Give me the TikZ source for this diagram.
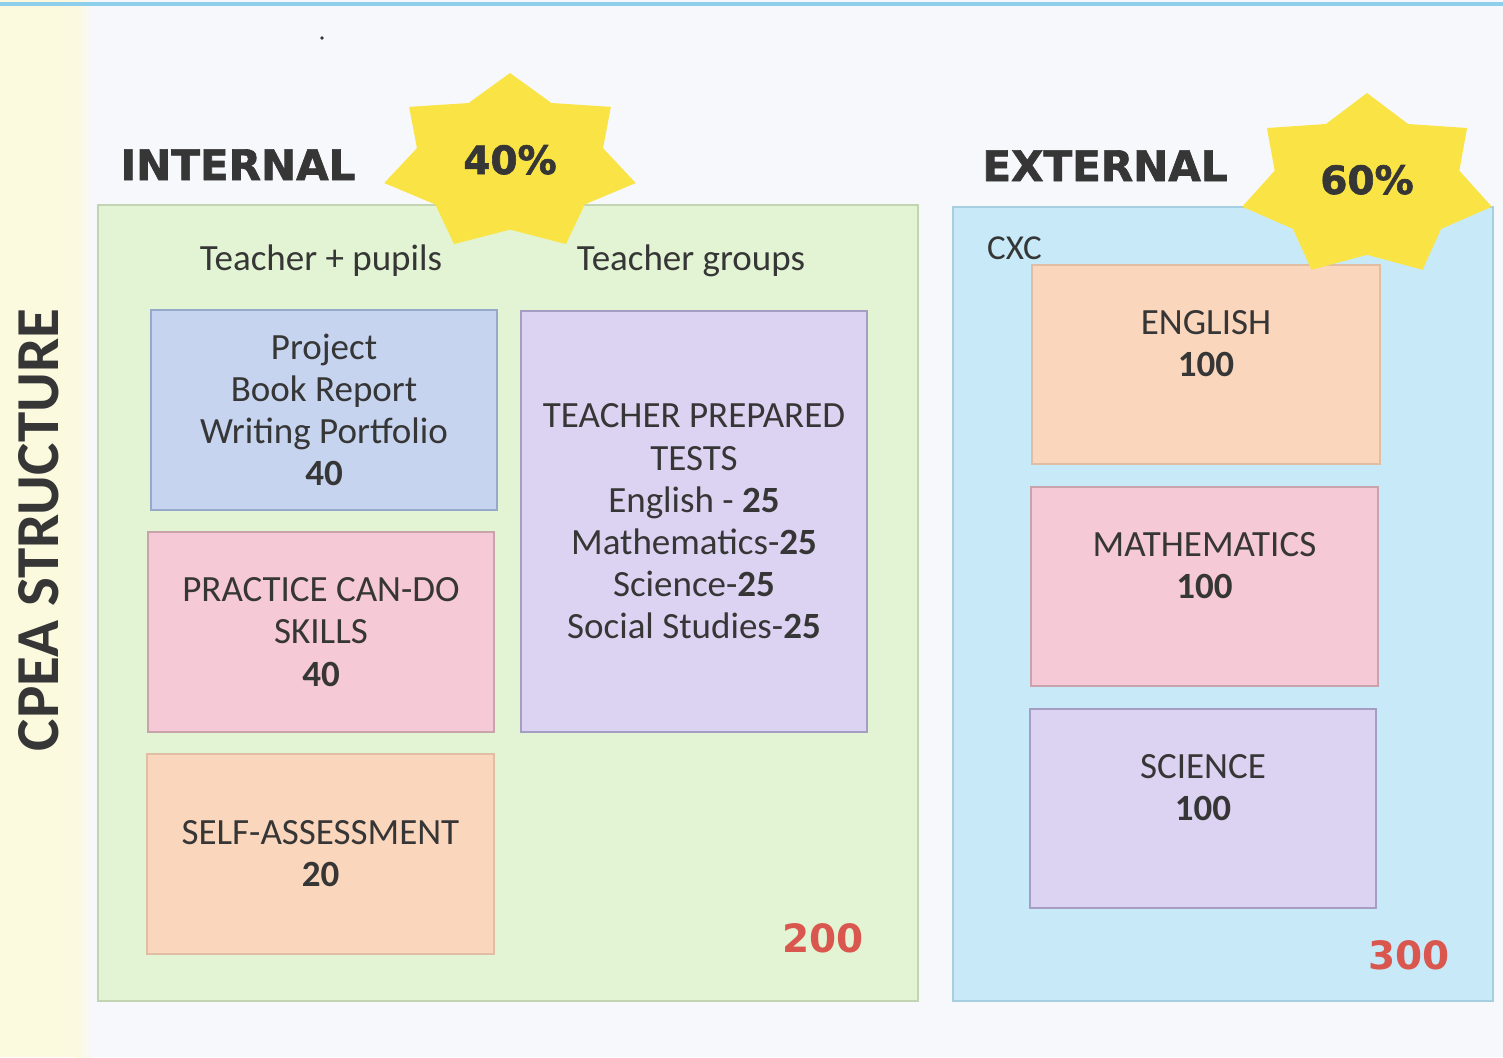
\documentclass[tikz,border=0pt]{standalone}
\usepackage{fontspec}
\newfontfamily\bodyfont{Carlito}
\newfontfamily\headfont{DejaVu Sans}
\newfontfamily\heavyfont{DejaVu Sans}[UprightFont={* Bold}, FakeBold=1.6]
\definecolor{bgcol}{HTML}{F7F8FC}
\definecolor{stripcol}{HTML}{FBFADF}
\definecolor{toplinecol}{HTML}{8ECFEB}
\definecolor{greenfill}{HTML}{E2F4D3}
\definecolor{greenline}{HTML}{C3D4B3}
\definecolor{bluefill}{HTML}{C8EAF8}
\definecolor{blueline}{HTML}{A6CFE0}
\definecolor{projfill}{HTML}{C6D4EF}
\definecolor{projline}{HTML}{97A9CB}
\definecolor{pinkfill}{HTML}{F6C9D6}
\definecolor{pinkline}{HTML}{C9A3AB}
\definecolor{orangefill}{HTML}{FAD6BD}
\definecolor{orangeline}{HTML}{E0BEA4}
\definecolor{purplefill}{HTML}{DCD3F2}
\definecolor{purpleline}{HTML}{A59DC2}
\definecolor{starfill}{HTML}{FAE445}
\definecolor{totalred}{HTML}{D9574E}
\definecolor{inkcol}{HTML}{363636}
\begin{document}
\begin{tikzpicture}[x=1pt,y=-1pt,
  panel/.style={draw, line width=1.6pt, inner sep=0pt},
  markbox/.style={draw, line width=1.2pt, inner sep=0pt, text=inkcol,
    align=center, font=\bodyfont\fontsize{37}{42.2}\selectfont},
  boxtext/.style={inner sep=0pt, text=inkcol, align=center,
    font=\bodyfont\fontsize{37}{42.2}\selectfont},
  heading/.style={inner sep=0pt, anchor=base, text=inkcol,
    font=\heavyfont\fontsize{42}{50}\selectfont},
  percent/.style={inner sep=0pt, anchor=base, text=inkcol,
    font=\heavyfont\fontsize{39}{46}\selectfont},
  caption/.style={inner sep=0pt, anchor=base, text=inkcol,
    font=\bodyfont\fontsize{37}{42}\selectfont},
  total/.style={inner sep=0pt, anchor=base, text=totalred,
    font=\headfont\bfseries\fontsize{39}{45}\selectfont}]
\useasboundingbox (0,0) rectangle (1503,1057);

% page background, side strip and top rule
\fill[bgcol] (0,0) rectangle (1503,1057);
\fill[stripcol] (0,0) rectangle (76,1057);
\shade[left color=stripcol, right color=bgcol] (76,0) rectangle (94,1057);
\fill[toplinecol] (0,2.5) rectangle (1503,6);
\fill[inkcol] (322,38) circle (1.8);

% side title
\node[inner sep=0pt, rotate=90, text=inkcol,
  font=\bodyfont\bfseries\fontsize{61}{70}\selectfont] (title) at (38.5,530) {CPEA STRUCTURE};

% the two panels
\node[panel, fill=greenfill, draw=greenline, minimum width=820pt, minimum height=796pt] (internal) at (508,603) {};
\node[panel, fill=bluefill, draw=blueline, minimum width=540pt, minimum height=794pt] (external) at (1223,604) {};

% internal assessment boxes
\node[markbox, fill=projfill, draw=projline, minimum width=346pt, minimum height=200pt] (project) at (324,410)
  {Project\\Book Report\\Writing Portfolio\\\textbf{40}};
\node[markbox, fill=pinkfill, draw=pinkline, minimum width=346pt, minimum height=200pt] (practice) at (321,632)
  {PRACTICE CAN-DO\\SKILLS\\\textbf{40}};
\node[markbox, fill=orangefill, draw=orangeline, minimum width=347pt, minimum height=200pt] (self) at (320.5,854)
  {SELF-ASSESSMENT\\\textbf{20}};
\node[markbox, fill=purplefill, draw=purpleline, minimum width=346pt, minimum height=421pt] (tests) at (694,521.5)
  {TEACHER PREPARED\\TESTS\\English - \textbf{25}\\Mathematics-\textbf{25}\\Science-\textbf{25}\\Social Studies-\textbf{25}};

% external assessment boxes
\node[markbox, fill=orangefill, draw=orangeline, minimum width=348pt, minimum height=199pt] (english) at (1206,364.5) {};
\node[markbox, fill=pinkfill, draw=pinkline, minimum width=347pt, minimum height=199pt] (maths) at (1204.5,586.5) {};
\node[markbox, fill=purplefill, draw=purpleline, minimum width=346pt, minimum height=199pt] (science) at (1203,808.5) {};
\node[boxtext] (englishtext) at ([yshift=21pt]english.center) {ENGLISH\\\textbf{100}};
\node[boxtext] (mathstext) at ([yshift=21pt]maths.center) {MATHEMATICS\\\textbf{100}};
\node[boxtext] (sciencetext) at ([yshift=21pt]science.center) {SCIENCE\\\textbf{100}};

% captions and totals
\node[caption] (teacherpupils) at (321,270) {Teacher + pupils};
\node[caption] (teachergroups) at (691,270) {Teacher groups};
\node[caption, anchor=base west, font=\bodyfont\fontsize{35}{40}\selectfont] (cxc) at (987,259) {CXC};
\node[total] (internaltotal) at (823,952) {200};
\node[total] (externaltotal) at (1409,969) {300};

% seven-pointed stars
\fill[starfill] plot[samples at={0,...,13}, variable=\k]
  ({510+129*(0.87+0.13*cos(180*\k))*cos(90+\k*360/14)},
   {163-90*(0.87+0.13*cos(180*\k))*sin(90+\k*360/14)}) -- cycle;
\fill[starfill] plot[samples at={0,...,13}, variable=\k]
  ({1367+128*(0.87+0.13*cos(180*\k))*cos(90+\k*360/14)},
   {186-93*(0.87+0.13*cos(180*\k))*sin(90+\k*360/14)}) -- cycle;

% headings and shares
\node[heading] (internalhead) at (238,180) {INTERNAL};
\node[heading] (externalhead) at (1105,181) {EXTERNAL};
\node[percent] (internalshare) at (510,174) {40\%};
\node[percent] (externalshare) at (1367,194) {60\%};
\end{tikzpicture}
\end{document}
